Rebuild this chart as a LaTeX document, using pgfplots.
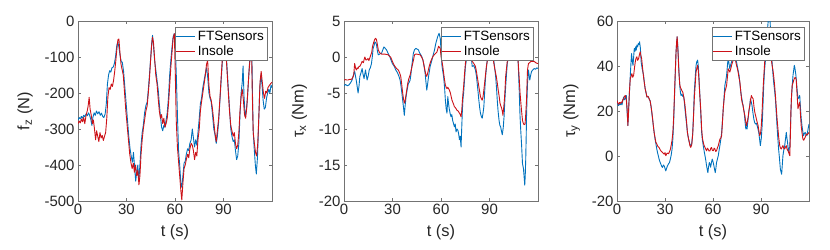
\documentclass[border=0pt]{standalone}
\usepackage{fontspec}
\setmainfont{Liberation Sans}
\usepackage{pgfplots}
\pgfplotsset{compat=1.18}
\definecolor{ftblue}{RGB}{0,114,189}
\definecolor{insred}{RGB}{204,18,24}
\definecolor{axgray}{RGB}{38,38,38}
\pgfplotsset{
  panel/.style={
    scale only axis, width=194bp, height=180bp,
    xmin=0, xmax=120, xtick={0,30,60,90},
    axis line style={draw=black!55, line width=0.5bp},
    tick style={draw=black!55, line width=0.5bp},
    major tick length=3bp,
    tick label style={font=\fontsize{15}{15}\selectfont, text=axgray},
    label style={font=\fontsize{16.5}{16.5}\selectfont, text=axgray},
    /pgf/number format/assume math mode=true,
    xlabel={t (s)}, xlabel shift=3bp, ylabel shift=5bp,
    legend style={at={(rel axis cs:1,1)}, anchor=north east, xshift=-5bp, yshift=-6bp,
      draw=black!55, fill=white, line width=0.5bp,
      font=\fontsize{13.5}{14}\selectfont, text=black,
      inner xsep=1bp, inner ysep=1.5bp, row sep=0bp,
      cells={anchor=west, inner xsep=0.5bp},
      /tikz/every even column/.append style={column sep=0bp}},
    legend image code/.code={\draw[#1, line width=1.2bp] (0bp,0bp) -- (19bp,0bp);},
    every axis plot/.append style={line width=0.9bp, line join=round},
  }
}
\begin{document}
\begin{tikzpicture}
\path[use as bounding box] (0,0) rectangle (830bp,250bp);

% ---------- f_z ----------
\begin{axis}[panel, at={(78bp,49bp)}, anchor=south west,
  ymin=-500, ymax=0, ytick={-500,-400,-300,-200,-100,0},
  ylabel={f\textsubscript{z} (N)}]
\addplot[ftblue] coordinates {
(0,-275)(0.7,-268)(1.4,-272)(2.1,-265)(2.8,-270)(3.5,-262)(4.2,-266)(5,-258)(5.8,-263)(6.5,-255)
(7.2,-262)(8,-275)(8.6,-290)(9.2,-268)(10,-255)(10.7,-262)(11.4,-250)(12.2,-258)(13,-252)(13.8,-262)
(14.5,-256)(15.3,-265)(16,-268)(16.8,-258)(17.5,-230)(18.2,-175)(18.9,-150)(19.6,-138)(20.3,-142)(21,-130)
(21.8,-128)(22.5,-118)(23.2,-100)(24,-68)(24.6,-58)(25.3,-72)(26,-95)(26.7,-112)(27.4,-115)(28.2,-140)
(29,-185)(29.8,-230)(30.6,-275)(31.4,-320)(32.2,-355)(33,-378)(33.7,-392)(34.3,-365)(35,-405)(35.7,-445)
(36.3,-420)(37,-400)(37.6,-445)(38.3,-400)(39,-345)(39.7,-310)(40.4,-290)(41.2,-255)(42,-235)(42.8,-225)
(43.5,-190)(44.2,-150)(45,-100)(45.6,-60)(46.1,-40)(46.7,-70)(47.4,-110)(48.1,-135)(48.9,-165)(49.6,-190)
(50.3,-230)(51,-265)(51.7,-295)(52.4,-305)(53.1,-290)(53.8,-295)(54.5,-275)(55.2,-255)(56,-210)(56.7,-150)
(57.4,-110)(58.1,-75)(58.8,-45)(59.5,-35)(60.2,-70)(60.8,-150)(61.5,-260)(62.2,-360)(62.9,-400)(63.6,-450)
(64.2,-462)(64.9,-430)(65.6,-395)(66.3,-390)(67,-370)(67.8,-355)(68.5,-360)(69.2,-340)(70,-330)(70.7,-300)
(71.4,-325)(72.1,-350)(72.8,-330)(73.5,-345)(74.2,-310)(75,-270)(75.7,-230)(76.4,-215)(77.2,-185)(78,-165)
(78.8,-145)(79.5,-130)(80.2,-155)(81,-200)(81.7,-215)(82.4,-225)(83.2,-260)(84,-300)(84.7,-315)(85.5,-340)
(86.2,-320)(87,-280)(87.8,-220)(88.5,-170)(89.2,-120)(90,-60)(90.7,-35)(91.4,-70)(92.2,-130)(93,-190)
(93.7,-240)(94.5,-300)(95.2,-320)(96,-335)(96.7,-330)(97.4,-360)(98.1,-385)(98.8,-375)(99.5,-340)(100.2,-260)
(100.9,-200)(101.6,-170)(102.1,-125)(102.7,-210)(103.4,-265)(104.1,-250)(104.8,-215)(105.5,-160)(106.2,-110)(106.9,-50)
(107.6,-110)(108.3,-300)(109,-355)(109.7,-400)(110.3,-425)(111,-380)(111.7,-290)(112.4,-190)(113.1,-150)(113.8,-175)
(114.5,-220)(115.2,-245)(115.9,-240)(116.6,-215)(117.3,-200)(118,-190)(118.7,-200)(119.4,-178)(120,-185)
};
\addlegendentry{FTSensors}
\addplot[insred] coordinates {
(0,-285)(0.7,-278)(1.4,-283)(2.1,-272)(2.8,-280)(3.5,-268)(4.2,-285)(5,-262)(5.7,-250)(6.3,-235)
(6.9,-212)(7.5,-245)(8.2,-262)(8.9,-285)(9.5,-275)(10.2,-300)(10.9,-330)(11.5,-305)(12.2,-320)(12.9,-335)
(13.6,-310)(14.3,-325)(15,-318)(15.7,-332)(16.4,-320)(17.1,-310)(17.8,-270)(18.5,-210)(19.2,-185)(19.9,-190)
(20.6,-175)(21.3,-182)(22,-165)(22.7,-140)(23.4,-110)(24.1,-75)(24.7,-52)(25.3,-50)(25.9,-85)(26.6,-120)
(27.3,-135)(28,-150)(28.8,-200)(29.6,-250)(30.4,-290)(31.2,-330)(32,-370)(32.8,-395)(33.5,-410)(34.2,-395)
(34.9,-420)(35.6,-400)(36.3,-430)(37,-415)(37.7,-455)(38.3,-430)(39,-370)(39.7,-330)(40.4,-300)(41.2,-275)
(42,-250)(42.8,-235)(43.5,-200)(44.2,-160)(44.9,-110)(45.5,-70)(46.1,-45)(46.7,-60)(47.4,-105)(48.1,-150)
(48.9,-175)(49.6,-215)(50.3,-250)(51,-270)(51.7,-260)(52.4,-285)(53.1,-270)(53.8,-295)(54.5,-285)(55.2,-270)
(56,-230)(56.7,-180)(57.4,-130)(58.1,-90)(58.8,-50)(59.6,-35)(60.2,-150)(60.8,-280)(61.5,-350)(62.2,-390)
(62.9,-430)(63.6,-470)(64.2,-497)(64.9,-450)(65.6,-410)(66.3,-400)(67,-385)(67.8,-370)(68.5,-380)(69.2,-355)
(70,-340)(70.7,-345)(71.4,-360)(72.1,-385)(72.8,-365)(73.5,-375)(74.2,-330)(75,-300)(75.7,-250)(76.4,-225)
(77.2,-200)(78,-175)(78.8,-150)(79.5,-120)(80.2,-110)(81,-180)(81.7,-210)(82.4,-220)(83.2,-245)(84,-280)
(84.7,-310)(85.5,-335)(86.2,-305)(87,-270)(87.8,-215)(88.5,-160)(89.2,-110)(90,-70)(90.7,-40)(91.4,-80)
(92.2,-140)(93,-200)(93.7,-250)(94.5,-290)(95.2,-305)(96,-320)(96.7,-310)(97.4,-340)(98.1,-355)(98.8,-345)
(99.5,-310)(100.2,-250)(100.9,-210)(101.6,-190)(102.3,-220)(103,-260)(103.7,-270)(104.4,-240)(105.1,-190)(105.8,-140)
(106.5,-100)(107.2,-40)(107.8,-200)(108.4,-310)(109.1,-340)(109.8,-365)(110.5,-375)(111.2,-340)(111.9,-260)(112.6,-170)
(113.3,-140)(114,-170)(114.7,-200)(115.4,-215)(116.1,-195)(116.8,-200)(117.5,-185)(118.2,-180)(119,-175)(120,-170)
};
\addlegendentry{Insole}
\end{axis}

% ---------- tau_x ----------
\begin{axis}[panel, at={(344bp,49bp)}, anchor=south west,
  ymin=-20, ymax=5, ytick={-20,-15,-10,-5,0,5},
  ylabel={τ\textsubscript{x} (Nm)}]
\addplot[ftblue] coordinates {
(0,-4.0)(1,-3.8)(2,-4.0)(3,-3.9)(4,-3.6)(5,-3.2)(5.6,-2.7)(6.6,-2.0)(7.7,-3.4)(8.7,-5.0)
(9.3,-4.0)(9.8,-2.7)(10.5,-2.2)(11.2,-1.6)(11.8,-2.4)(12.4,-3.0)(13.3,-1.8)(14.3,-3.2)(15,-2.6)(15.6,-1.8)
(16.3,-1.5)(17,-0.9)(17.6,0.2)(18,1.2)(18.6,1.6)(19.1,2.1)(19.6,2.0)(20.1,1.7)(20.7,0.8)(21.2,0.3)
(22,0.4)(22.7,0.5)(23.2,0.5)(24,1.0)(24.7,1.4)(25.5,1.2)(26.3,1.0)(27.3,0.5)(28.4,0.0)(29.2,-0.5)
(29.9,-0.9)(31.1,-1.3)(32,-1.8)(32.6,-2.0)(33.3,-2.3)(34,-2.7)(34.7,-3.2)(35.3,-4.1)(35.8,-5.0)(36.3,-6.0)
(36.8,-7.0)(37.3,-8.1)(37.8,-6.8)(38.4,-5.5)(39.1,-4.5)(39.8,-3.7)(40.4,-3.5)(40.9,-3.2)(41.4,-2.4)(41.9,-1.3)
(42.4,-0.4)(42.9,0.5)(43.6,1.0)(44.4,1.2)(45.2,1.1)(46,1.0)(46.7,0.6)(47.5,0.3)(48.2,0.0)(48.8,-0.4)
(49.5,-1.2)(50.2,-2.3)(50.7,-3.5)(51.2,-4.6)(51.7,-3.8)(52.3,-2.7)(52.8,-2.0)(53.3,-1.3)(53.8,-0.9)(54.4,-0.4)
(55.2,0.3)(56,1.0)(56.8,1.9)(57.9,2.8)(58.8,3.3)(59.6,2.5)(60.1,0.5)(60.6,-1.2)(61.1,-2.0)(61.6,-2.7)
(62.2,-4.2)(62.7,-6.0)(63.2,-7.2)(63.7,-7.8)(64.2,-5.5)(64.7,-6.5)(65.1,-7.2)(65.7,-7.9)(66.2,-8.3)(66.7,-8.0)
(67.2,-8.8)(67.8,-9.3)(68.3,-9.7)(68.8,-9.3)(69.3,-10.4)(69.9,-10.0)(70.5,-10.2)(71,-10.8)(71.4,-11.5)(71.9,-11.0)
(72.4,-12.5)(72.8,-10.0)(73.2,-7.5)(73.6,-5.8)(74,-5.0)(74.6,-3.0)(75.1,-1.3)(75.6,-0.6)(76.5,0.8)(77.5,1.2)
(78.5,0.5)(79.3,-1.3)(80.3,-1.2)(81.3,-1.8)(81.9,-2.6)(82.4,-3.7)(82.9,-4.8)(83.4,-6.0)(83.9,-7.0)(84.4,-7.8)
(85,-8.3)(85.5,-8.5)(86,-7.8)(86.5,-6.9)(87.1,-4.5)(87.6,-2.7)(88.1,-1.5)(88.6,-0.4)(89.6,0.8)(90.6,1.0)
(91.6,0.5)(92.7,-0.6)(93.2,-1.5)(93.8,-2.7)(94.3,-4.2)(94.8,-6.0)(95.3,-7.5)(95.9,-8.8)(96.4,-9.5)(96.9,-9.7)
(97.4,-10.3)(97.9,-10.8)(98.5,-9.8)(99,-8.3)(99.5,-6.0)(100,-4.1)(100.5,-2.4)(101,-0.9)(102,0.5)(103.5,1.0)
(105,1.0)(106.5,0.8)(107.7,-0.6)(108.3,-4.1)(108.9,-8.3)(109.4,-10.5)(109.8,-12.0)(110.4,-14.8)(111,-15.5)(111.4,-16.6)
(111.8,-17.8)(112.1,-16.5)(112.4,-14.3)(112.7,-11.0)(112.9,-8.3)(113.2,-5.8)(113.5,-3.7)(114.1,-1.8)(114.5,-2.5)(114.9,-3.2)
(115.4,-2.6)(116,-2.0)(116.8,-1.8)(117.6,-1.6)(118.5,-1.7)(119.3,-1.5)(120,-1.6)
};
\addlegendentry{FTSensors}
\addplot[insred] coordinates {
(0,-3.2)(1,-3.15)(2,-3.2)(2.5,-3.2)(3.5,-3.1)(4.6,-3.1)(5.3,-2.9)(6,-2.5)(6.6,-0.9)(7.2,-1.6)
(7.7,-1.8)(8.2,-1.5)(8.7,-1.6)(9.3,-1.3)(9.8,-1.3)(10.5,-1.0)(11.2,-0.6)(12,-0.8)(12.5,-0.3)(12.9,0.0)
(13.5,-0.4)(14.1,-0.4)(14.8,-0.2)(15.4,-0.5)(16,-0.1)(16.6,0.3)(17.1,0.6)(17.6,1.4)(18.3,2.0)(19.1,2.5)
(19.6,2.6)(20.1,2.4)(20.6,1.8)(21.2,1.0)(22,0.6)(23.2,0.4)(24.2,0.4)(25.3,0.4)(26.3,0.35)(27.4,0.3)
(28.1,0.1)(28.8,0.0)(29.4,-0.3)(29.9,-0.6)(30.7,-1.0)(31.5,-1.3)(32.5,-1.6)(33.6,-1.8)(34.4,-2.2)(35.1,-2.7)
(35.7,-3.8)(36.3,-5.0)(36.8,-5.8)(37.3,-6.4)(37.8,-6.1)(38.2,-5.5)(38.8,-4.6)(39.4,-3.7)(40.1,-3.0)(40.9,-2.5)
(41.6,-1.8)(42.3,-1.1)(43,-0.4)(43.6,0.3)(44.3,0.4)(45,0.4)(46,0.35)(47.1,0.3)(48,0.0)(48.8,-0.4)
(49.5,-1.2)(50.2,-2.0)(50.7,-2.5)(51.2,-2.7)(51.9,-2.1)(52.7,-1.3)(53.5,-0.7)(54.4,-0.2)(55.1,0.1)(55.8,0.3)
(56.6,0.5)(57.5,0.7)(58.5,1.5)(59.5,1.2)(60.1,0.0)(60.6,-0.6)(61.1,-1.3)(61.6,-2.2)(62.2,-3.2)(62.7,-3.9)
(63.2,-4.2)(63.7,-4.4)(64.2,-4.2)(64.7,-4.4)(65.2,-4.6)(65.8,-5.0)(66.3,-5.5)(66.8,-6.0)(67.5,-6.4)(68.3,-6.9)
(69.1,-7.1)(69.9,-7.4)(70.6,-7.5)(71.4,-7.8)(71.9,-8.0)(72.4,-8.3)(72.8,-7.5)(73.2,-6.2)(73.6,-5.0)(74,-4.1)
(74.5,-2.5)(75.1,-0.9)(76,0.5)(77.5,1.0)(78.5,0.5)(79.3,-0.6)(80.3,-0.9)(81.3,-1.3)(81.9,-2.0)(82.4,-2.7)
(82.9,-3.4)(83.4,-4.1)(83.9,-4.8)(84.4,-5.5)(85,-5.8)(85.5,-6.0)(86,-5.5)(86.5,-4.6)(87.1,-3.4)(87.6,-2.3)
(88.1,-1.3)(88.6,-0.6)(89.6,0.6)(90.6,1.0)(91.6,0.6)(92.7,-0.9)(93.4,-1.8)(94.2,-2.7)(94.8,-3.6)(95.4,-4.6)
(96,-5.5)(96.5,-6.4)(97,-6.8)(97.5,-7.1)(98,-7.6)(98.3,-8.1)(98.8,-7.0)(99.2,-6.0)(99.6,-4.5)(100,-2.7)
(100.5,-1.6)(101,-0.6)(102,0.5)(104,1.0)(106,0.8)(107.7,-0.6)(108.3,-2.7)(108.9,-5.0)(109.4,-6.4)(109.8,-7.4)
(110.4,-8.8)(110.9,-9.2)(111.4,-9.4)(112,-9.3)(112.4,-8.0)(112.9,-6.0)(113.2,-3.8)(113.5,-1.8)(114.1,-0.9)(114.8,-0.8)
(115.6,-0.6)(116.6,-0.6)(117.6,-0.6)(118.6,-0.8)(119.7,-0.9)(120,-0.9)
};
\addlegendentry{Insole}
\end{axis}

% ---------- tau_y ----------
\begin{axis}[panel, at={(617bp,49bp)}, anchor=south west, width=192bp,
  ymin=-20, ymax=60, ytick={-20,0,20,40,60},
  ylabel={τ\textsubscript{y} (Nm)}]
\addplot[ftblue] coordinates {
(0,24.7)(0.5,23.0)(1,22.4)(1.6,23.2)(2.1,22.8)(2.6,23.5)(3.1,22.7)(3.6,24.5)(4.1,26.2)(4.7,25.0)
(5.2,25.4)(5.8,26.9)(6.3,20.0)(6.8,13.5)(7.2,20.0)(7.7,27.0)(8.3,35.9)(8.7,41.0)(9.1,45.5)(9.6,42.0)
(10,40.3)(10.4,44.0)(10.8,47.8)(11.2,46.5)(11.6,48.5)(12,47.0)(12.4,49.3)(12.9,48.5)(13.3,50.0)(13.7,49.5)
(14.1,50.8)(14.6,48.0)(15.1,41.8)(15.8,38.5)(16.6,35.9)(17.1,32.5)(17.6,29.9)(18.2,28.0)(18.7,26.2)(19.4,26.5)
(20.1,25.4)(20.7,24.5)(21.2,22.4)(21.7,19.5)(22.2,16.5)(22.7,13.5)(23.2,10.5)(23.8,7.5)(24.5,4.6)(24.9,3.0)
(25.3,1.6)(25.8,0.2)(26.3,-1.4)(26.8,-2.5)(27.4,-3.6)(27.9,-4.5)(28.4,-5.1)(29,-4.0)(29.5,-4.4)(30,-5.5)
(30.5,-6.6)(31,-5.5)(31.5,-4.4)(32.2,-3.5)(32.8,-2.9)(33.3,-1.5)(33.8,0.1)(34.4,3.0)(34.9,7.5)(35.4,15.0)
(35.9,25.4)(36.4,36.0)(36.9,46.3)(37.3,50.5)(37.6,53.0)(37.9,50.0)(38.2,46.3)(38.7,38.0)(39.2,31.4)(39.6,28.5)
(40,26.9)(40.6,27.5)(41.1,26.5)(41.5,27.0)(41.9,25.4)(42.4,21.5)(42.9,18.0)(43.5,14.0)(44,10.5)(44.6,8.0)
(45.2,6.1)(45.6,5.0)(46.1,4.6)(46.7,5.5)(47.3,10.0)(47.8,18.0)(48.3,28.4)(48.9,35.0)(49.4,40.3)(49.9,42.0)
(50.4,42.6)(50.8,40.0)(51.2,35.9)(51.5,31.0)(51.9,25.4)(52.4,18.0)(52.9,10.5)(53.4,7.0)(53.9,4.6)(54.5,2.0)
(55,0.1)(55.5,-2.0)(56,-4.4)(56.4,-6.0)(56.8,-7.4)(57.2,-5.0)(57.7,-2.9)(58.1,-3.5)(58.5,-5.0)(59,-3.0)
(59.5,-1.4)(60,-2.5)(60.6,-4.5)(61,-6.0)(61.4,-7.4)(61.8,-5.5)(62.2,-2.9)(62.7,-1.5)(63.3,0.1)(63.8,2.5)
(64.3,4.6)(64.9,7.5)(65.4,10.5)(65.9,15.5)(66.4,21.0)(66.9,26.0)(67.4,31.4)(68,33.5)(68.5,35.9)(69,40.0)
(69.5,44.1)(70,41.0)(70.5,38.8)(71,40.5)(71.6,41.8)(72.1,43.0)(72.6,44.1)(73.1,45.5)(73.7,44.1)(74.4,43.0)
(75.1,40.3)(75.7,38.0)(76.3,35.9)(76.9,31.5)(77.4,28.4)(77.9,26.0)(78.4,23.9)(79,21.5)(79.5,19.5)(80,15.5)
(80.5,12.0)(80.9,13.0)(81.3,12.0)(81.8,15.5)(82.4,19.5)(82.9,22.0)(83.4,25.4)(83.9,24.0)(84.4,22.4)(85,19.0)
(85.5,16.5)(86,15.0)(86.5,14.2)(87.1,14.5)(87.6,13.5)(88.1,12.0)(88.6,10.5)(89.1,7.5)(89.6,4.6)(90.2,8.0)
(90.7,13.5)(91.2,22.0)(91.7,31.4)(92.2,38.0)(92.7,42.0)(93.3,48.0)(93.9,55.0)(94.5,60.0)(95,63.0)(95.4,65.0)
(95.8,58.0)(96.3,50.0)(96.9,41.8)(97.4,37.0)(97.9,32.9)(98.5,29.0)(99,25.4)(99.5,19.5)(100,13.5)(100.5,8.0)
(101,3.1)(101.6,-1.5)(102.1,-5.9)(102.5,-7.0)(102.9,-8.1)(103.3,-4.0)(103.7,0.1)(104.2,2.5)(104.8,4.6)(105.3,7.5)
(105.8,10.5)(106.2,8.0)(106.6,6.0)(107,3.0)(107.3,1.6)(107.7,3.5)(108,4.0)(108.5,15.0)(109,25.4)(109.5,31.0)
(110,35.9)(110.4,38.0)(110.8,40.3)(111.1,39.5)(111.4,38.0)(111.8,36.0)(112,34.4)(112.5,30.0)(113.1,25.4)(113.6,26.0)
(114.2,26.9)(114.7,21.0)(115.1,17.0)(115.6,13.5)(116.1,11.0)(116.6,9.0)(117.1,10.0)(117.6,10.5)(118.2,9.5)(118.7,9.0)
(119.3,11.5)(120,14.2)
};
\addlegendentry{FTSensors}
\addplot[insred] coordinates {
(0,24.7)(0.5,23.5)(1,23.0)(1.6,23.8)(2.1,23.4)(2.6,24.0)(3.1,23.6)(3.6,25.0)(4.1,25.4)(4.7,26.5)
(5.2,26.9)(5.8,25.0)(6.3,21.0)(6.8,13.5)(7.2,19.0)(7.7,28.0)(8.3,34.4)(8.8,35.5)(9.3,36.6)(9.8,35.0)
(10.4,35.9)(10.9,39.0)(11.4,41.8)(11.9,43.5)(12.4,44.1)(12.9,42.5)(13.5,43.3)(14,45.0)(14.5,46.3)(15,44.5)
(15.4,43.3)(16,39.0)(16.6,35.1)(17.1,32.5)(17.6,29.9)(18.2,28.0)(18.7,26.2)(19.4,26.5)(20.1,25.4)(20.7,24.5)
(21.2,22.4)(21.7,20.0)(22.2,17.0)(22.7,13.5)(23.2,10.5)(23.8,8.0)(24.3,6.1)(24.8,5.5)(25.3,4.6)(25.8,4.0)
(26.3,3.8)(26.8,3.0)(27.4,2.3)(27.9,2.0)(28.4,1.6)(29,1.2)(29.5,0.8)(30,1.5)(30.5,0.1)(31,0.9)
(31.5,1.3)(32.2,1.0)(32.8,1.9)(33.3,2.8)(33.8,4.5)(34.4,7.0)(34.9,10.5)(35.4,17.0)(35.9,26.9)(36.4,37.0)
(36.9,46.3)(37.3,51.0)(37.6,53.0)(37.9,49.0)(38.2,45.0)(38.7,37.0)(39.2,32.0)(39.6,30.5)(40,29.9)(40.6,29.0)
(41.1,28.4)(41.5,27.0)(41.9,25.4)(42.4,23.0)(42.9,19.5)(43.5,15.0)(44,10.5)(44.6,8.0)(45.2,6.1)(45.6,4.5)
(46.1,3.8)(46.7,5.0)(47.3,9.5)(47.8,17.0)(48.3,25.4)(48.9,32.0)(49.4,37.3)(49.9,39.0)(50.4,40.3)(50.8,38.0)
(51.2,34.0)(51.5,30.0)(51.9,25.4)(52.4,20.0)(52.9,12.0)(53.4,8.0)(53.9,6.1)(54.5,4.5)(55,3.8)(55.5,3.0)
(56,2.3)(56.5,3.5)(57,3.0)(57.5,2.2)(58.1,2.3)(58.6,3.4)(59.1,3.8)(59.6,2.5)(60.2,2.3)(60.7,3.5)
(61.2,3.1)(61.7,2.0)(62.2,2.3)(62.7,3.5)(63.3,4.6)(63.8,6.0)(64.3,7.5)(64.9,8.0)(65.4,9.0)(65.9,15.0)
(66.4,21.0)(66.9,25.0)(67.4,28.4)(68,30.0)(68.5,31.4)(69,35.0)(69.5,38.8)(70,38.0)(70.5,37.3)(71,38.5)
(71.6,40.3)(72.1,41.5)(72.6,42.6)(73.1,43.5)(73.7,43.3)(74.2,42.0)(74.7,40.3)(75.2,39.0)(75.7,37.3)(76.2,35.0)
(76.8,32.9)(77.3,29.0)(77.8,25.4)(78.3,23.5)(78.8,22.4)(79.3,20.0)(79.9,18.0)(80.4,15.5)(80.9,13.5)(81.4,15.0)
(82,17.5)(82.5,20.5)(83,22.4)(83.5,25.0)(84,26.9)(84.5,26.0)(85.1,25.4)(85.6,22.0)(86.1,19.5)(86.6,18.0)
(87.1,16.5)(87.6,15.0)(88.2,13.5)(88.7,11.0)(89.2,9.0)(89.7,10.0)(90.2,13.5)(90.7,20.0)(91.3,29.9)(91.8,36.0)
(92.3,41.8)(92.9,46.0)(93.5,50.0)(94,53.0)(94.6,55.0)(95.2,52.0)(95.8,48.0)(96.5,42.6)(97,40.0)(97.5,38.0)
(98,35.0)(98.5,31.4)(99,27.0)(99.6,21.0)(100.1,16.0)(100.6,12.0)(101.1,8.0)(101.7,4.6)(102.2,3.5)(102.7,3.1)
(103.2,4.0)(103.7,4.6)(104.2,3.5)(104.8,3.1)(105.3,4.0)(105.8,4.6)(106.3,3.0)(106.8,2.4)(107.3,1.5)(108,0.1)
(108.4,10.0)(108.7,20.0)(109.1,27.0)(109.5,31.4)(110,32.5)(110.4,33.6)(110.9,34.5)(111.4,35.0)(112,34.0)(112.5,28.0)
(113.1,21.0)(113.6,22.5)(114.2,23.9)(114.7,18.0)(115.1,13.5)(115.6,10.5)(116.2,7.5)(116.7,7.0)(117.2,7.8)(117.7,8.5)
(118.3,9.8)(119,9.5)(120,10.5)
};
\addlegendentry{Insole}
\end{axis}
\end{tikzpicture}
\end{document}
